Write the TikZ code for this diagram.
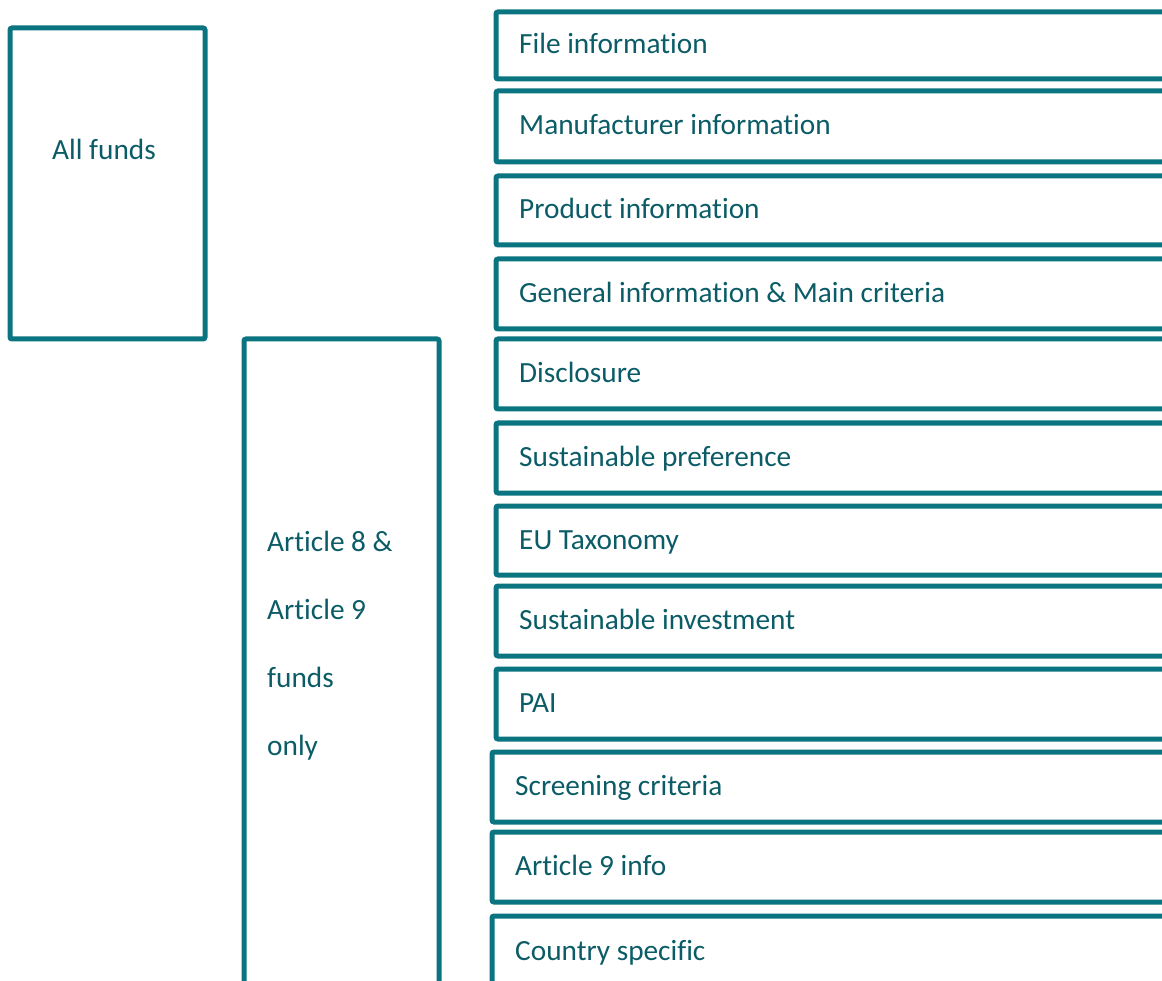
\documentclass[tikz,border=0pt]{standalone}
\usepackage{fontspec}
\setmainfont{Carlito}[Ligatures=CommonOff]
\usepackage{tikz}
\usetikzlibrary{positioning}
\definecolor{fundline}{RGB}{10,116,128}
\definecolor{fundtext}{RGB}{11,92,102}
\tikzset{
% section boxes on the right
sectbox/.style={draw=fundline, line width=5pt, rounded corners=2pt,
  anchor=north west, outer sep=0, inner sep=0, minimum width=800pt},
secttext/.style={text=fundtext, font=\fontsize{29.3}{35}\selectfont,
  inner sep=0, text height=19pt, text depth=2pt},
% group boxes on the left
groupbox/.style={draw=fundline, line width=5pt, rounded corners=2pt,
  rectangle, outer sep=0},
grouptext/.style={text=fundtext, font=\fontsize{29.3}{35}\selectfont, inner sep=0}
}

\begin{document}
\begin{tikzpicture}[x=1pt, y=-1pt]
  \useasboundingbox (0,0) rectangle (1162,981);
  \clip (0,0) rectangle (1162,981);

  % left
  \draw[groupbox] (10,28) rectangle (205,339);
  \node[grouptext, anchor=base] (allfunds) at (104,160) {All funds};

  \draw[groupbox] (244,339) rectangle (439,1010);
  \node[grouptext, anchor=base west] (art1) at (267,551) {Article 8 \&};
  \node[grouptext, anchor=base west] (art2) at (267,619) {Article 9};
  \node[grouptext, anchor=base west] (art3) at (267,687) {funds};
  \node[grouptext, anchor=base west] (art4) at (267,755) {only};

  % right
  \node[sectbox, minimum height=67pt] (file) at (496,12) {};
  \node[sectbox, minimum height=71pt] (manuf) at (496,91) {};
  \node[sectbox, minimum height=69pt] (product) at (496,176) {};
  \node[sectbox, minimum height=70pt] (general) at (496,259) {};
  \node[sectbox, minimum height=70pt] (disclosure) at (496,339) {};
  \node[sectbox, minimum height=70pt] (pref) at (496,423) {};
  \node[sectbox, minimum height=69pt] (taxonomy) at (496,506) {};
  \node[sectbox, minimum height=70pt] (invest) at (496,586) {};
  \node[sectbox, minimum height=70pt] (pai) at (496,669) {};
  \node[sectbox, minimum height=70pt] (screening) at (492,752) {};
  \node[sectbox, minimum height=70pt] (artnine) at (492,832) {};
  \node[sectbox, minimum height=72pt] (country) at (492,916) {};

  \node[secttext, right=23pt of file.west] (fileTxt) {File information};
  \node[secttext, right=23pt of manuf.west] (manufTxt) {Manufacturer information};
  \node[secttext, right=23pt of product.west] (productTxt) {Product information};
  \node[secttext, right=23pt of general.west] (generalTxt) {General information \& Main criteria};
  \node[secttext, right=23pt of disclosure.west] (disclosureTxt) {Disclosure};
  \node[secttext, right=23pt of pref.west] (prefTxt) {Sustainable preference};
  \node[secttext, right=23pt of taxonomy.west] (taxonomyTxt) {EU Taxonomy};
  \node[secttext, right=23pt of invest.west] (investTxt) {Sustainable investment};
  \node[secttext, right=23pt of pai.west] (paiTxt) {PAI};
  \node[secttext, right=23pt of screening.west] (screeningTxt) {Screening criteria};
  \node[secttext, right=23pt of artnine.west] (artnineTxt) {Article 9 info};
  \node[secttext, right=23pt of country.west] (countryTxt) {Country specific};
\end{tikzpicture}
\end{document}
